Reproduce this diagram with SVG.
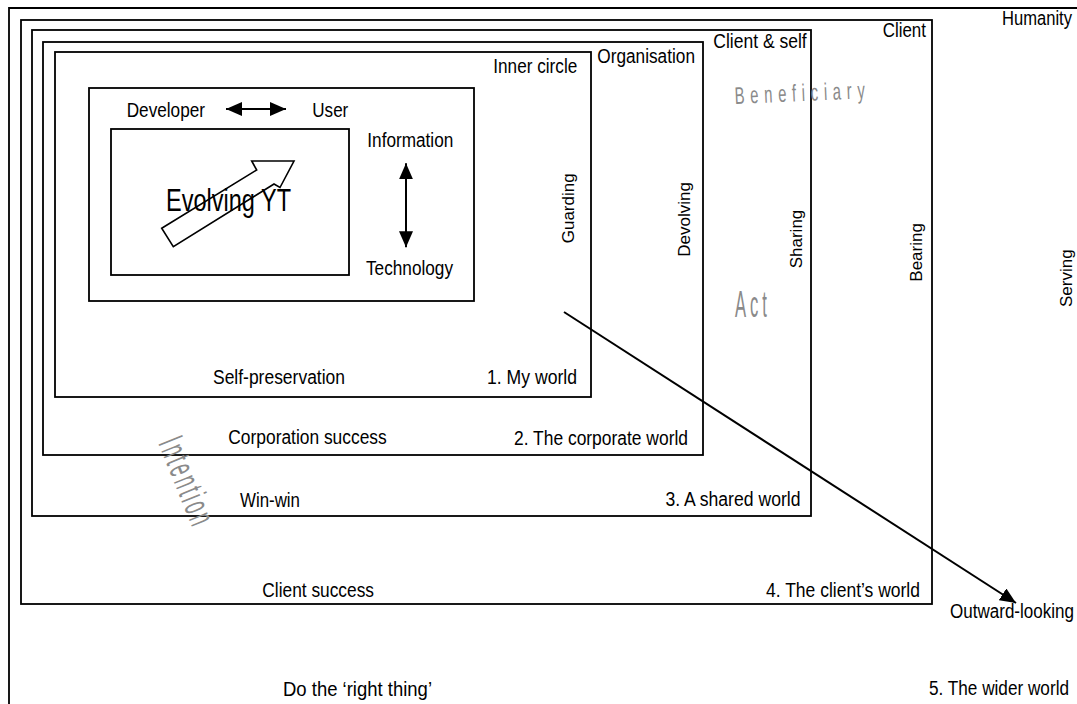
<svg xmlns="http://www.w3.org/2000/svg" width="1077" height="704" viewBox="0 0 1077 704">
<style>
.box{fill:none;stroke:#000;stroke-width:1.8}
.t{font-family:"Liberation Sans",Arial,sans-serif;font-size:19.5px;fill:#000}
.r{font-family:"Liberation Sans",Arial,sans-serif;font-size:17px;fill:#000}
.g{font-family:"Liberation Sans",Arial,sans-serif;fill:#8a8a8a}
.ln{stroke:#000;stroke-width:2;fill:none}
</style>
<defs>
<marker id="ah" viewBox="0 0 16 14" refX="16" refY="7" markerWidth="16" markerHeight="14" markerUnits="userSpaceOnUse" orient="auto-start-reverse">
<path d="M0,0 L16,7 L0,14 z" fill="#000"/>
</marker>
</defs>
<rect width="1077" height="704" fill="#fff"/>

<g id="wider-world">
<path class="box" d="M9,704 V8 H1080"/>
<text class="t" x="1002" y="25" textLength="70" lengthAdjust="spacingAndGlyphs">Humanity</text>
<text class="r" transform="translate(1072,307) rotate(-90)">Serving</text>
<text class="t" x="283" y="696" textLength="149" lengthAdjust="spacingAndGlyphs">Do the ‘right thing’</text>
<text class="t" x="929" y="695" textLength="140" lengthAdjust="spacingAndGlyphs">5. The wider world</text>
<text class="t" x="950" y="618" textLength="124" lengthAdjust="spacingAndGlyphs">Outward-looking</text>
</g>

<g id="client-world">
<rect class="box" x="21" y="20" width="911" height="584"/>
<text class="t" x="882.7" y="36.7" textLength="43.3" lengthAdjust="spacingAndGlyphs">Client</text>
<text class="r" transform="translate(921.5,281.7) rotate(-90)">Bearing</text>
<text class="t" x="262.3" y="596.7" textLength="111.7" lengthAdjust="spacingAndGlyphs">Client success</text>
<text class="t" x="766" y="596.7" textLength="154" lengthAdjust="spacingAndGlyphs">4. The client’s world</text>
</g>

<g id="shared-world">
<rect class="box" x="32" y="30" width="779" height="486"/>
<text class="t" x="713.3" y="48.3" textLength="93.4" lengthAdjust="spacingAndGlyphs">Client &amp; self</text>
<text class="r" transform="translate(802,268.3) rotate(-90)">Sharing</text>
<text class="t" x="240" y="506.7" textLength="60" lengthAdjust="spacingAndGlyphs">Win-win</text>
<text class="t" x="665.5" y="506" textLength="135" lengthAdjust="spacingAndGlyphs">3. A shared world</text>
</g>

<g id="corporate-world">
<rect class="box" x="43" y="42" width="660" height="413"/>
<text class="t" x="597.3" y="62.7" textLength="97.7" lengthAdjust="spacingAndGlyphs">Organisation</text>
<text class="r" transform="translate(690,256.7) rotate(-90)">Devolving</text>
<text class="t" x="228.3" y="443.5" textLength="158.4" lengthAdjust="spacingAndGlyphs">Corporation success</text>
<text class="t" x="514" y="444.5" textLength="174" lengthAdjust="spacingAndGlyphs">2. The corporate world</text>
</g>

<g id="my-world">
<rect class="box" x="55" y="52" width="536" height="345"/>
<text class="t" x="493.3" y="73.3" textLength="84" lengthAdjust="spacingAndGlyphs">Inner circle</text>
<text class="r" transform="translate(573.5,243.3) rotate(-90)">Guarding</text>
<text class="t" x="213" y="383.5" textLength="132" lengthAdjust="spacingAndGlyphs">Self-preservation</text>
<text class="t" x="487" y="383.5" textLength="90" lengthAdjust="spacingAndGlyphs">1. My world</text>
</g>

<g id="dev-user">
<rect class="box" x="89" y="88" width="385" height="213"/>
<text class="t" x="126.7" y="116.7" textLength="78.3" lengthAdjust="spacingAndGlyphs">Developer</text>
<text class="t" x="312.3" y="116.7" textLength="36" lengthAdjust="spacingAndGlyphs">User</text>
<text class="t" x="367.3" y="147.3" textLength="86" lengthAdjust="spacingAndGlyphs">Information</text>
<text class="t" x="366" y="275" textLength="87" lengthAdjust="spacingAndGlyphs">Technology</text>
</g>

<g id="evolving">
<rect class="box" x="111" y="129" width="238" height="146"/>
<polygon points="161.7,228.3 256.7,170 251.7,161 294,161 280,187.5 274,184 173.3,246.7" fill="#fff" stroke="#000" stroke-width="1.6" stroke-linejoin="miter"/>
<text class="t" x="166" y="210.7" style="font-size:31px" textLength="125" lengthAdjust="spacingAndGlyphs">Evolving YT</text>
</g>

<g id="annotations">
<text class="g" transform="translate(735,104) rotate(-2.5) scale(0.62,1)" style="font-size:24px" textLength="210" lengthAdjust="spacing">Beneficiary</text>
<text class="g" transform="translate(735,317) scale(0.45,1)" style="font-size:37px" textLength="71" lengthAdjust="spacing">Act</text>
<text class="g" transform="translate(158,443) rotate(68) scale(0.48,1)" style="font-size:37px" textLength="190" lengthAdjust="spacing">Intention</text>
</g>

<g id="connectors">
<line class="ln" x1="226" y1="109" x2="286" y2="109" marker-start="url(#ah)" marker-end="url(#ah)"/>
<line class="ln" x1="406" y1="163.3" x2="406" y2="247.3" marker-start="url(#ah)" marker-end="url(#ah)"/>
<line class="ln" x1="564" y1="312" x2="1016" y2="603" marker-end="url(#ah)"/>
</g>
</svg>
